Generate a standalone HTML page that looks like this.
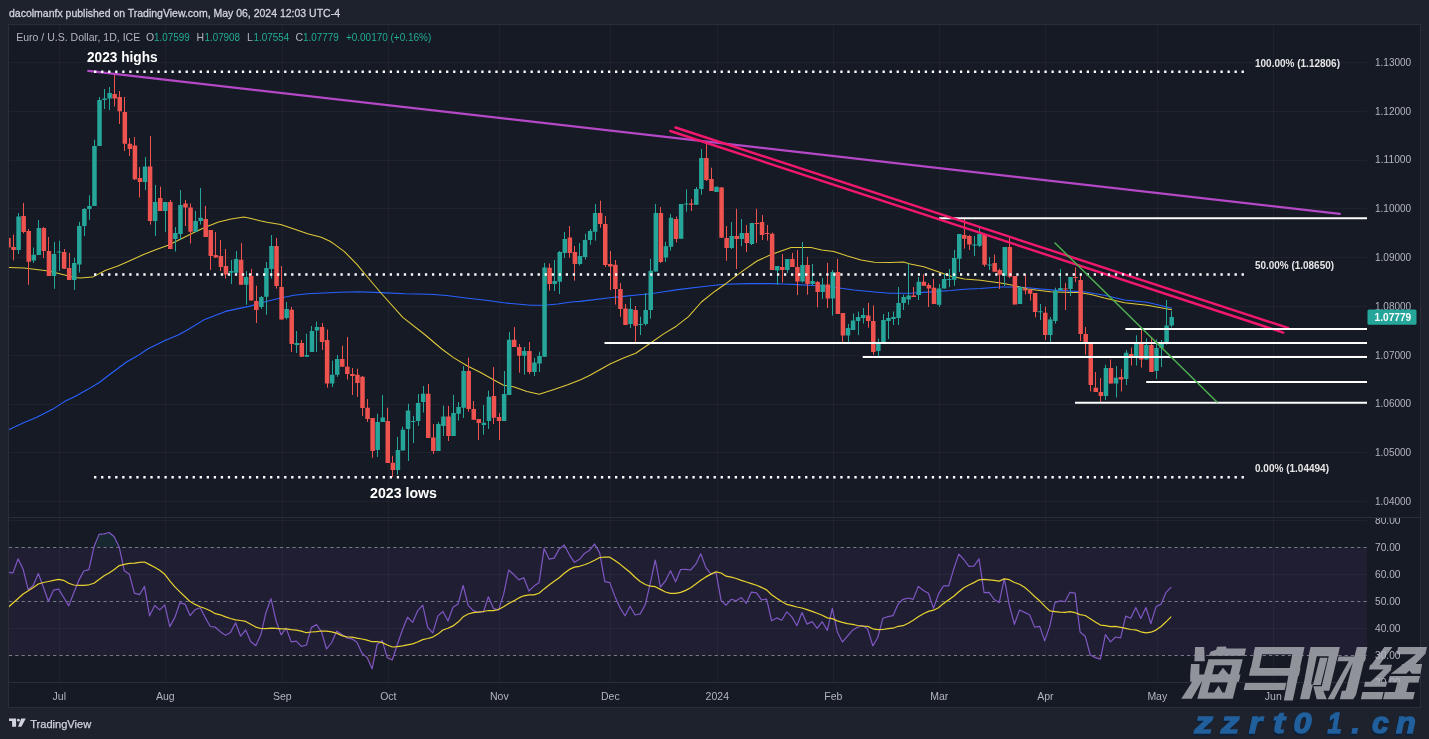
<!DOCTYPE html>
<html><head><meta charset="utf-8"><style>html,body{margin:0;padding:0;background:#1e222d;}svg{display:block;will-change:transform}</style></head>
<body><svg width="1429" height="739" viewBox="0 0 1429 739">
<rect x="0" y="0" width="1429" height="739" fill="#1e222d"/>
<rect x="8.5" y="24.5" width="1412" height="683" fill="#161a25" stroke="#2a2e39" stroke-width="1"/>
<rect x="9" y="547.3" width="1358" height="108.1" fill="#201e33"/>
<path d="M9 501.5H1367M9 452.5H1367M9 404.5H1367M9 355.5H1367M9 306.5H1367M9 257.5H1367M9 208.5H1367M9 160.5H1367M9 111.5H1367M9 62.5H1367M9 520.5H1367M9 574.5H1367M9 628.5H1367M59.5 25V517M59.5 518V682M165.5 25V517M165.5 518V682M282.5 25V517M282.5 518V682M388.5 25V517M388.5 518V682M499.5 25V517M499.5 518V682M610.5 25V517M610.5 518V682M717.5 25V517M717.5 518V682M833.5 25V517M833.5 518V682M939.5 25V517M939.5 518V682M1045.5 25V517M1045.5 518V682M1157.5 25V517M1157.5 518V682M1273.5 25V517M1273.5 518V682" stroke="rgba(120,123,134,0.09)" stroke-width="1" fill="none"/>
<path d="M9 517.5H1420M9 682.5H1420" stroke="#2a2e39" stroke-width="1"/>
<path d="M9 547.5H1367M9 601.5H1367M9 655.5H1367" stroke="#787b86" stroke-width="1" stroke-dasharray="3.2 3.1" fill="none"/>
<defs><clipPath id="cp"><rect x="9" y="25" width="1358" height="492"/></clipPath><clipPath id="cr"><rect x="9" y="518" width="1358" height="164"/></clipPath></defs>
<g clip-path="url(#cp)">
<polyline points="8.7,429.8 23.0,423.0 36.8,417.2 52.9,409.1 64.4,401.6 75.9,396.0 87.4,389.6 98.9,382.7 110.4,374.0 126.5,362.0 138.0,355.6 147.2,349.3 164.4,340.8 178.2,334.9 188.6,329.3 204.7,319.4 225.4,311.4 250.0,306.1 267.0,301.3 280.6,298.0 294.0,295.2 307.7,293.8 339.5,292.3 359.0,291.8 380.9,292.6 405.2,293.8 429.6,294.3 446.6,295.5 466.0,298.0 490.0,300.7 503.5,302.8 517.0,304.0 530.6,305.2 544.0,305.2 557.7,304.0 571.2,302.0 580.0,301.4 610.0,297.7 623.5,296.4 637.0,295.0 650.6,293.7 664.0,291.7 677.7,289.6 704.0,286.5 724.4,284.2 750.0,283.6 770.6,283.6 784.0,284.0 797.7,284.6 813.5,285.5 833.8,287.2 854.0,290.0 874.4,292.0 890.0,293.2 910.3,293.2 930.6,291.9 951.0,290.5 964.4,289.2 980.0,288.5 1000.6,287.0 1014.0,287.0 1027.7,287.7 1041.2,289.0 1057.0,290.4 1084.0,291.8 1104.4,295.2 1124.6,300.0 1147.0,302.2 1172.0,308.2" fill="none" stroke="#2962ff" stroke-width="1.1" stroke-linejoin="round"/>
<polyline points="0.0,267.0 9.0,267.4 24.0,268.0 48.7,271.0 74.7,277.5 80.0,278.1 92.6,277.1 105.2,270.5 117.8,266.1 130.4,260.5 143.0,254.8 155.6,249.7 168.2,245.3 180.8,239.0 193.4,232.7 205.9,227.1 218.5,222.0 231.1,218.9 243.7,217.0 250.0,218.3 260.0,220.8 267.0,222.3 280.6,224.4 294.0,229.0 307.7,233.8 321.2,237.2 330.0,241.3 334.6,244.4 344.4,251.7 356.5,263.8 368.7,278.5 380.9,293.0 402.8,317.4 424.7,334.5 441.8,349.0 453.5,357.6 467.0,365.7 480.6,372.5 494.0,380.0 503.6,385.3 513.5,386.8 527.0,391.6 539.2,394.3 554.0,389.5 567.7,384.8 581.2,379.4 590.0,375.3 610.0,364.0 623.5,358.0 635.7,353.2 650.6,343.0 664.0,333.6 676.3,326.2 688.5,316.7 701.4,302.0 715.0,291.2 725.8,283.7 743.5,270.4 757.0,261.0 770.6,254.8 784.0,250.0 791.0,247.4 811.0,247.4 821.7,250.0 833.8,251.4 847.4,256.0 861.0,260.0 874.4,262.2 890.0,262.5 903.5,262.0 910.3,264.1 923.8,266.8 937.4,271.6 951.0,276.3 964.4,279.0 980.3,280.2 1000.6,283.0 1014.0,285.6 1027.7,289.0 1050.3,291.8 1070.6,292.5 1078.7,292.5 1091.0,294.5 1104.4,298.0 1124.6,302.7 1147.0,305.2 1172.0,309.7" fill="none" stroke="#e0c93a" stroke-width="1.05" stroke-linejoin="round"/>
<path d="M18.5 213.0V254.0M33.5 247.5V263.0M38.5 220.0V255.0M54.5 242.0V288.8M59.5 240.7V271.0M74.5 257.7V290.0M79.5 221.8V272.5M84.5 208.0V236.0M89.5 195.4V219.8M94.5 139.7V206.0M99.5 97.0V146.0M104.5 89.0V109.0M109.5 87.0V110.0M145.5 157.0V190.0M155.5 185.0V236.0M165.5 202.0V232.0M175.5 227.0V251.5M180.5 190.0V240.0M195.5 211.0V231.7M200.5 188.0V224.5M231.5 260.0V284.0M236.5 251.0V272.8M246.5 271.0V304.7M261.5 296.0V308.7M266.5 262.0V314.8M271.5 235.0V278.5M286.5 302.0V319.5M296.5 331.0V353.0M306.5 333.7V356.8M311.5 326.0V352.0M316.5 321.6V352.0M332.5 360.6V387.0M337.5 355.0V376.8M377.5 413.8V457.0M382.5 395.0V422.0M397.5 436.8V474.7M402.5 426.7V450.4M408.5 403.7V461.0M413.5 416.0V443.0M418.5 394.0V426.0M423.5 386.0V412.5M438.5 422.0V451.0M443.5 405.7V436.0M453.5 394.8V436.0M458.5 402.0V420.5M463.5 366.0V418.0M483.5 405.0V434.7M488.5 390.7V429.0M504.5 371.0V421.0M509.5 332.0V395.0M524.5 347.0V374.6M534.5 358.0V376.0M539.5 351.7V372.0M544.5 262.9V356.8M554.5 260.0V291.0M559.5 251.0V294.0M564.5 232.0V258.0M579.5 243.0V265.6M585.5 233.8V259.5M590.5 229.0V244.7M595.5 204.0V240.6M630.5 297.7V328.0M640.5 316.7V335.0M645.5 293.0V325.5M650.5 258.9V318.7M655.5 204.0V271.6M665.5 241.8V262.0M670.5 214.0V250.6M681.5 204.0V238.8M686.5 189.4V211.7M696.5 187.0V204.7M701.5 149.0V194.8M716.5 186.7V192.0M731.5 222.0V249.0M741.5 219.0V246.0M751.5 223.0V245.0M777.5 266.0V284.6M787.5 259.0V273.0M802.5 242.0V282.5M812.5 264.0V285.0M822.5 278.0V299.0M832.5 270.0V315.6M848.5 324.0V343.0M853.5 313.6V330.0M858.5 311.6V335.0M863.5 308.0V323.7M878.5 338.6V356.0M883.5 314.0V343.0M888.5 312.0V339.0M893.5 311.5V325.0M898.5 287.0V325.0M903.5 294.6V310.0M908.5 263.5V304.7M918.5 277.0V300.0M939.5 284.0V306.8M944.5 273.6V288.5M949.5 269.0V287.0M954.5 250.0V285.8M959.5 234.0V272.0M974.5 236.0V256.0M979.5 226.0V247.0M989.5 257.0V270.0M1004.5 247.0V286.0M1019.5 286.0V304.0M1040.5 304.0V320.0M1050.5 317.0V342.5M1055.5 287.7V323.6M1060.5 268.8V290.0M1070.5 277.0V296.0M1105.5 364.7V400.0M1116.5 366.0V397.5M1126.5 350.0V385.0M1136.5 335.4V365.5M1146.5 338.4V359.5M1156.5 339.4V378.9M1161.5 340.0V367.0M1166.5 300.0V344.6M1171.5 311.0V327.5" stroke="#26a69a" stroke-width="1" fill="none"/>
<path d="M8.5 235.0V252.0M13.5 234.7V260.4M23.5 202.9V233.3M28.5 229.0V284.7M43.5 227.0V258.0M48.5 237.0V276.0M64.5 249.0V268.8M69.5 253.0V280.0M114.5 74.0V106.5M119.5 91.0V124.0M124.5 97.0V151.0M129.5 138.0V156.0M134.5 137.0V180.0M139.5 167.0V197.5M150.5 136.0V224.6M160.5 186.7V211.0M170.5 200.0V249.0M185.5 200.0V226.0M190.5 203.5V243.5M205.5 206.0V237.0M210.5 230.0V270.0M215.5 232.0V258.0M220.5 240.0V271.0M225.5 249.0V278.6M241.5 243.0V285.0M251.5 268.8V300.6M256.5 285.7V323.0M276.5 238.0V288.6M281.5 266.0V319.5M291.5 307.0V352.0M301.5 340.0V356.8M322.5 323.0V350.0M327.5 329.5V387.7M342.5 345.7V366.7M347.5 337.0V379.5M352.5 368.0V395.0M357.5 368.7V397.0M362.5 376.0V416.0M367.5 399.0V422.0M372.5 418.0V457.8M387.5 407.7V463.0M392.5 455.8V477.0M428.5 384.0V438.0M433.5 424.0V454.0M448.5 406.0V441.0M468.5 357.6V411.7M473.5 401.0V419.8M478.5 419.0V440.0M493.5 367.0V424.0M499.5 413.0V440.0M514.5 327.0V347.0M519.5 344.0V372.6M529.5 342.0V374.0M549.5 263.5V290.6M569.5 226.0V257.7M574.5 246.0V280.7M600.5 200.7V227.7M605.5 216.0V267.0M610.5 251.0V290.0M615.5 260.0V304.5M620.5 283.0V316.7M625.5 304.0V325.0M635.5 306.0V343.7M660.5 207.0V263.0M676.5 216.5V242.5M691.5 199.0V211.0M706.5 142.0V181.0M711.5 167.7V191.0M721.5 187.0V238.0M726.5 226.0V260.7M736.5 208.8V269.0M746.5 225.0V252.0M756.5 208.8V243.0M762.5 215.0V240.0M767.5 225.0V240.6M772.5 232.5V270.0M782.5 254.0V282.5M792.5 252.8V267.0M797.5 250.0V295.0M807.5 256.8V294.7M817.5 281.0V307.5M827.5 262.9V308.0M837.5 258.8V314.0M842.5 313.0V342.7M868.5 302.8V327.7M873.5 305.5V354.8M913.5 287.0V297.0M923.5 274.0V285.8M928.5 283.0V307.0M933.5 279.0V304.0M964.5 217.4V248.6M969.5 235.0V250.0M984.5 234.0V266.7M994.5 254.5V271.7M999.5 268.7V289.0M1009.5 237.6V278.0M1014.5 276.0V304.6M1025.5 274.8V294.4M1030.5 289.0V300.5M1035.5 293.0V317.4M1045.5 306.7V340.0M1065.5 283.0V310.0M1075.5 267.4V282.0M1080.5 274.0V341.0M1085.5 327.0V354.7M1090.5 342.0V391.5M1095.5 372.0V392.0M1100.5 378.0V402.7M1110.5 359.5V383.6M1121.5 369.0V391.5M1131.5 347.6V365.5M1141.5 329.0V367.7M1151.5 338.0V372.0" stroke="#ef5350" stroke-width="1" fill="none"/>
<path d="M16.35 216.4h4.5v33.6h-4.5zM31.53 254.7h4.5v5.7h-4.5zM36.58 228.0h4.5v27.0h-4.5zM51.76 254.0h4.5v22.0h-4.5zM56.81 251.5h4.5v1.0h-4.5zM71.98 263.0h4.5v17.0h-4.5zM77.04 226.0h4.5v38.4h-4.5zM82.10 209.0h4.5v17.0h-4.5zM87.16 206.0h4.5v3.0h-4.5zM92.21 146.0h4.5v60.0h-4.5zM97.27 100.0h4.5v46.0h-4.5zM102.33 98.4h4.5v1.6h-4.5zM107.39 93.0h4.5v5.4h-4.5zM142.79 166.4h4.5v15.6h-4.5zM152.90 202.0h4.5v19.0h-4.5zM163.02 202.0h4.5v9.0h-4.5zM173.13 233.0h4.5v6.0h-4.5zM178.19 205.0h4.5v29.0h-4.5zM193.36 221.0h4.5v10.7h-4.5zM198.42 217.7h4.5v3.3h-4.5zM228.76 271.0h4.5v1.8h-4.5zM233.82 259.0h4.5v13.8h-4.5zM243.93 277.0h4.5v7.7h-4.5zM259.11 297.0h4.5v10.0h-4.5zM264.16 268.0h4.5v28.8h-4.5zM269.22 246.0h4.5v23.0h-4.5zM284.39 309.0h4.5v9.0h-4.5zM294.51 343.0h4.5v2.0h-4.5zM304.62 355.0h4.5v1.8h-4.5zM309.68 331.0h4.5v21.0h-4.5zM314.74 327.0h4.5v3.6h-4.5zM329.91 374.8h4.5v8.8h-4.5zM334.97 359.0h4.5v15.8h-4.5zM375.42 422.0h4.5v28.0h-4.5zM380.48 417.6h4.5v4.4h-4.5zM395.65 450.0h4.5v20.0h-4.5zM400.71 429.8h4.5v20.6h-4.5zM405.77 410.4h4.5v18.6h-4.5zM410.82 421.0h4.5v1.0h-4.5zM415.88 403.0h4.5v18.0h-4.5zM420.94 393.8h4.5v8.2h-4.5zM436.11 424.0h4.5v27.0h-4.5zM441.17 416.5h4.5v9.5h-4.5zM451.28 413.0h4.5v23.0h-4.5zM456.34 407.0h4.5v6.7h-4.5zM461.40 371.0h4.5v36.7h-4.5zM481.63 422.8h4.5v2.2h-4.5zM486.68 396.8h4.5v24.2h-4.5zM501.86 393.9h4.5v27.1h-4.5zM506.91 339.7h4.5v55.3h-4.5zM522.09 351.0h4.5v4.7h-4.5zM532.20 362.5h4.5v9.5h-4.5zM537.26 356.0h4.5v7.6h-4.5zM542.31 267.6h4.5v89.2h-4.5zM552.43 281.0h4.5v3.0h-4.5zM557.49 252.0h4.5v29.7h-4.5zM562.54 239.0h4.5v14.0h-4.5zM577.72 256.0h4.5v8.0h-4.5zM582.77 240.0h4.5v17.0h-4.5zM587.83 231.0h4.5v9.0h-4.5zM592.89 213.0h4.5v18.7h-4.5zM628.29 309.0h4.5v15.0h-4.5zM638.40 324.0h4.5v1.0h-4.5zM643.46 310.0h4.5v14.0h-4.5zM648.52 270.7h4.5v39.3h-4.5zM653.58 213.0h4.5v58.6h-4.5zM663.69 246.3h4.5v11.3h-4.5zM668.75 217.8h4.5v29.0h-4.5zM678.86 204.0h4.5v34.8h-4.5zM683.92 203.6h4.5v1.0h-4.5zM694.03 189.0h4.5v15.7h-4.5zM699.09 157.9h4.5v31.1h-4.5zM714.26 186.7h4.5v5.3h-4.5zM729.44 236.0h4.5v12.0h-4.5zM739.55 233.0h4.5v6.0h-4.5zM749.66 223.0h4.5v21.0h-4.5zM774.95 266.0h4.5v4.6h-4.5zM785.07 259.0h4.5v11.0h-4.5zM800.24 265.0h4.5v16.5h-4.5zM810.35 281.0h4.5v3.0h-4.5zM820.47 284.5h4.5v7.5h-4.5zM830.58 272.0h4.5v26.4h-4.5zM845.75 328.0h4.5v7.5h-4.5zM850.81 320.6h4.5v9.4h-4.5zM855.87 317.0h4.5v4.0h-4.5zM860.93 315.0h4.5v3.0h-4.5zM876.10 343.0h4.5v8.0h-4.5zM881.16 320.0h4.5v23.0h-4.5zM886.21 318.0h4.5v3.0h-4.5zM891.27 317.0h4.5v2.0h-4.5zM896.33 303.0h4.5v15.0h-4.5zM901.38 297.0h4.5v6.0h-4.5zM906.44 295.5h4.5v4.1h-4.5zM916.56 281.7h4.5v13.3h-4.5zM936.79 288.5h4.5v16.2h-4.5zM941.84 279.0h4.5v9.5h-4.5zM946.90 279.0h4.5v1.0h-4.5zM951.96 258.0h4.5v21.7h-4.5zM957.01 234.0h4.5v24.7h-4.5zM972.19 244.4h4.5v1.0h-4.5zM977.24 234.0h4.5v11.7h-4.5zM987.36 264.4h4.5v1.0h-4.5zM1002.53 247.0h4.5v28.7h-4.5zM1017.70 287.0h4.5v17.0h-4.5zM1037.93 311.3h4.5v1.0h-4.5zM1048.05 319.5h4.5v15.5h-4.5zM1053.10 290.4h4.5v30.6h-4.5zM1058.16 288.0h4.5v2.0h-4.5zM1068.28 277.0h4.5v12.0h-4.5zM1103.68 368.0h4.5v28.0h-4.5zM1113.79 377.7h4.5v5.9h-4.5zM1123.91 352.8h4.5v26.1h-4.5zM1134.02 342.4h4.5v14.1h-4.5zM1144.14 345.0h4.5v14.5h-4.5zM1154.25 348.0h4.5v23.0h-4.5zM1159.31 344.0h4.5v4.0h-4.5zM1164.36 325.6h4.5v18.4h-4.5zM1169.42 317.0h4.5v8.6h-4.5z" fill="#26a69a"/>
<path d="M6.24 238.0h4.5v9.5h-4.5zM11.30 247.0h4.5v3.0h-4.5zM21.41 216.0h4.5v16.0h-4.5zM26.47 231.0h4.5v30.7h-4.5zM41.64 228.0h4.5v23.0h-4.5zM46.70 251.0h4.5v25.0h-4.5zM61.87 252.0h4.5v16.8h-4.5zM66.93 268.0h4.5v12.0h-4.5zM112.44 94.0h4.5v4.4h-4.5zM117.50 97.0h4.5v14.3h-4.5zM122.56 112.0h4.5v31.7h-4.5zM127.62 143.7h4.5v5.3h-4.5zM132.67 145.4h4.5v33.8h-4.5zM137.73 178.0h4.5v4.0h-4.5zM147.84 166.4h4.5v54.6h-4.5zM157.96 198.0h4.5v13.0h-4.5zM168.07 202.0h4.5v47.0h-4.5zM183.25 203.5h4.5v4.1h-4.5zM188.30 207.6h4.5v24.1h-4.5zM203.47 219.0h4.5v18.0h-4.5zM208.53 230.0h4.5v26.0h-4.5zM213.59 255.0h4.5v2.4h-4.5zM218.65 256.0h4.5v11.0h-4.5zM223.70 266.0h4.5v8.6h-4.5zM238.88 259.7h4.5v25.0h-4.5zM248.99 276.0h4.5v24.6h-4.5zM254.05 301.0h4.5v9.0h-4.5zM274.28 246.0h4.5v40.0h-4.5zM279.33 287.0h4.5v32.5h-4.5zM289.45 309.8h4.5v34.2h-4.5zM299.56 343.0h4.5v13.8h-4.5zM319.79 327.0h4.5v15.0h-4.5zM324.85 340.0h4.5v43.6h-4.5zM340.02 359.0h4.5v7.7h-4.5zM345.08 366.7h4.5v7.2h-4.5zM350.14 373.9h4.5v2.1h-4.5zM355.19 374.8h4.5v8.2h-4.5zM360.25 376.8h4.5v31.2h-4.5zM365.31 407.7h4.5v11.3h-4.5zM370.37 418.0h4.5v33.0h-4.5zM385.54 421.0h4.5v42.0h-4.5zM390.60 462.8h4.5v7.2h-4.5zM426.00 393.8h4.5v44.2h-4.5zM431.05 437.5h4.5v13.5h-4.5zM446.23 416.5h4.5v19.5h-4.5zM466.46 371.0h4.5v38.0h-4.5zM471.51 409.0h4.5v10.8h-4.5zM476.57 419.0h4.5v4.0h-4.5zM491.74 396.0h4.5v21.8h-4.5zM496.80 417.0h4.5v4.0h-4.5zM511.97 339.7h4.5v7.3h-4.5zM517.03 347.0h4.5v8.7h-4.5zM527.14 351.0h4.5v21.0h-4.5zM547.37 267.8h4.5v16.2h-4.5zM567.60 237.6h4.5v15.4h-4.5zM572.66 252.0h4.5v12.0h-4.5zM597.95 213.0h4.5v11.0h-4.5zM603.00 224.0h4.5v41.0h-4.5zM608.06 264.0h4.5v2.5h-4.5zM613.12 264.7h4.5v24.3h-4.5zM618.17 289.0h4.5v20.0h-4.5zM623.23 308.6h4.5v16.4h-4.5zM633.35 310.0h4.5v15.8h-4.5zM658.63 213.0h4.5v49.0h-4.5zM673.81 219.0h4.5v20.0h-4.5zM688.98 203.6h4.5v1.1h-4.5zM704.15 157.9h4.5v22.1h-4.5zM709.21 179.0h4.5v12.0h-4.5zM719.32 187.4h4.5v50.3h-4.5zM724.38 238.0h4.5v10.0h-4.5zM734.49 236.0h4.5v3.0h-4.5zM744.61 233.0h4.5v10.0h-4.5zM754.72 223.0h4.5v1.0h-4.5zM759.78 222.0h4.5v13.0h-4.5zM764.84 233.0h4.5v1.0h-4.5zM769.89 233.8h4.5v36.2h-4.5zM780.01 267.0h4.5v3.0h-4.5zM790.12 259.0h4.5v8.0h-4.5zM795.18 267.0h4.5v14.5h-4.5zM805.30 265.0h4.5v19.0h-4.5zM815.41 282.0h4.5v10.0h-4.5zM825.52 284.5h4.5v13.9h-4.5zM835.64 272.0h4.5v42.0h-4.5zM840.70 313.0h4.5v22.5h-4.5zM865.98 315.6h4.5v5.4h-4.5zM871.04 321.0h4.5v31.0h-4.5zM911.50 295.5h4.5v1.5h-4.5zM921.61 281.7h4.5v4.1h-4.5zM926.67 285.0h4.5v3.5h-4.5zM931.73 287.8h4.5v16.2h-4.5zM962.07 235.0h4.5v3.7h-4.5zM967.13 236.0h4.5v8.5h-4.5zM982.30 234.0h4.5v30.7h-4.5zM992.42 263.0h4.5v8.7h-4.5zM997.47 270.0h4.5v4.8h-4.5zM1007.59 247.0h4.5v29.8h-4.5zM1012.65 276.0h4.5v28.6h-4.5zM1022.76 289.0h4.5v1.4h-4.5zM1027.82 289.7h4.5v4.0h-4.5zM1032.87 293.0h4.5v19.0h-4.5zM1042.99 312.8h4.5v22.2h-4.5zM1063.22 288.4h4.5v1.0h-4.5zM1073.33 277.0h4.5v1.0h-4.5zM1078.39 280.0h4.5v54.0h-4.5zM1083.45 334.0h4.5v8.0h-4.5zM1088.51 342.0h4.5v43.0h-4.5zM1093.56 387.8h4.5v4.2h-4.5zM1098.62 392.0h4.5v4.0h-4.5zM1108.73 368.0h4.5v15.6h-4.5zM1118.85 377.0h4.5v2.6h-4.5zM1128.96 354.0h4.5v2.5h-4.5zM1139.08 342.4h4.5v17.1h-4.5zM1149.19 345.0h4.5v27.0h-4.5z" fill="#ef5350"/>
</g>
<line x1="88.2" y1="70.9" x2="1339.8" y2="213.9" stroke="#b548c6" stroke-width="2.2" stroke-linecap="round"/>
<line x1="939" y1="218.2" x2="1367" y2="218.2" stroke="#ffffff" stroke-width="2"/>
<line x1="675.5" y1="127.5" x2="1288" y2="327.9" stroke="#f2186c" stroke-width="2.4" stroke-linecap="round"/>
<line x1="670.3" y1="131" x2="1283.3" y2="332.6" stroke="#f2186c" stroke-width="2.4" stroke-linecap="round"/>
<line x1="94.05" y1="71.68" x2="1244.4" y2="71.68" stroke="#ffffff" stroke-width="2.4" stroke-dasharray="2.3 4.74"/>
<line x1="94.05" y1="274.45" x2="1244.4" y2="274.45" stroke="#ffffff" stroke-width="2.4" stroke-dasharray="2.3 4.74"/>
<line x1="94.05" y1="477.22" x2="1244.4" y2="477.22" stroke="#ffffff" stroke-width="2.4" stroke-dasharray="2.3 4.74"/>
<line x1="1125.4" y1="329" x2="1367" y2="329" stroke="#ffffff" stroke-width="2"/>
<line x1="604.5" y1="343.1" x2="1367" y2="343.1" stroke="#ffffff" stroke-width="2"/>
<line x1="862.7" y1="357" x2="1367" y2="357" stroke="#ffffff" stroke-width="2"/>
<line x1="1146.2" y1="381.9" x2="1367" y2="381.9" stroke="#ffffff" stroke-width="2"/>
<line x1="1075" y1="402.8" x2="1367" y2="402.8" stroke="#ffffff" stroke-width="2"/>
<line x1="1055" y1="243" x2="1217" y2="402" stroke="#4caf50" stroke-width="1.5" stroke-linecap="round"/>
<defs><clipPath id="ob"><rect x="9" y="518" width="1358" height="29.3"/></clipPath><clipPath id="os"><rect x="9" y="655.4" width="1358" height="26.6"/></clipPath></defs>
<polygon clip-path="url(#ob)" points="8.0,547.3 8.0,572.3 13.0,572.9 18.1,558.8 23.2,569.6 28.2,589.7 33.3,585.3 38.3,573.4 43.4,587.3 48.4,601.2 53.5,590.2 58.6,589.1 63.6,597.3 68.7,605.9 73.7,593.0 78.8,580.4 83.8,571.0 88.9,569.6 94.0,546.8 99.0,534.4 104.1,533.9 109.1,532.5 114.2,536.8 119.3,547.3 124.3,570.8 129.4,574.3 134.4,593.2 139.5,594.7 144.5,586.4 149.6,615.8 154.7,605.5 159.7,609.9 164.8,604.9 169.8,626.6 174.9,617.4 179.9,602.8 185.0,604.1 190.1,615.6 195.1,609.7 200.2,607.8 205.2,617.6 210.3,626.5 215.3,627.2 220.4,631.7 225.5,635.3 230.5,632.4 235.6,622.7 240.6,636.2 245.7,630.0 250.7,641.5 255.8,645.7 260.9,634.6 265.9,612.7 271.0,598.7 276.0,620.5 281.1,634.9 286.1,628.1 291.2,641.9 296.3,641.2 301.3,646.4 306.4,645.0 311.4,627.4 316.5,624.6 321.5,631.9 326.6,649.0 331.7,642.5 336.7,631.0 341.8,634.5 346.8,637.8 351.9,638.8 356.9,642.2 362.0,653.2 367.1,657.6 372.1,668.8 377.2,644.2 382.2,640.7 387.3,657.8 392.3,660.0 397.4,644.3 402.5,629.8 407.5,617.2 412.6,622.4 417.6,610.9 422.7,605.2 427.7,627.3 432.8,632.8 437.9,615.9 442.9,611.5 448.0,621.0 453.0,607.3 458.1,603.9 463.1,585.3 468.2,605.4 473.3,610.6 478.3,612.1 483.4,612.0 488.4,596.8 493.5,608.4 498.5,610.1 503.6,594.4 508.7,570.0 513.7,574.5 518.8,579.9 523.8,577.7 528.9,591.0 534.0,586.1 539.0,582.8 544.1,548.7 549.1,559.1 554.2,558.1 559.2,548.9 564.3,545.0 569.4,554.8 574.4,562.3 579.5,559.3 584.5,553.4 589.6,550.2 594.6,544.0 599.7,552.9 604.8,581.6 609.8,582.6 614.9,596.4 619.9,607.6 625.0,615.8 630.0,606.2 635.1,615.0 640.2,613.9 645.2,604.8 650.3,583.2 655.3,560.0 660.4,587.1 665.4,581.0 670.5,570.7 675.6,581.8 680.6,569.5 685.7,569.4 690.7,570.0 695.8,564.2 700.8,553.8 705.9,567.6 711.0,574.1 716.0,572.4 721.1,600.4 726.1,605.2 731.2,599.3 736.2,600.8 741.3,597.6 746.4,603.3 751.4,592.1 756.5,592.8 761.5,599.9 766.6,599.2 771.6,620.8 776.7,617.9 781.8,620.2 786.8,611.8 791.9,616.9 796.9,625.8 802.0,612.5 807.0,624.1 812.1,621.6 817.2,628.3 822.2,621.7 827.3,630.4 832.3,608.4 837.4,632.3 842.4,642.0 847.5,636.1 852.6,630.2 857.6,627.2 862.7,625.5 867.7,629.2 872.8,645.9 877.8,637.5 882.9,618.2 888.0,616.6 893.0,615.7 898.1,604.1 903.1,599.3 908.2,598.0 913.2,599.4 918.3,586.4 923.4,590.5 928.4,593.3 933.5,608.4 938.5,593.9 943.6,585.8 948.7,585.8 953.7,569.1 958.8,554.1 963.8,559.5 968.9,566.3 973.9,566.2 979.0,558.9 984.1,592.6 989.1,592.3 994.2,599.5 999.2,602.5 1004.3,578.5 1009.3,605.2 1014.4,624.3 1019.5,610.0 1024.5,612.4 1029.6,614.7 1034.6,627.1 1039.7,626.4 1044.7,640.9 1049.8,626.1 1054.9,602.7 1059.9,600.9 1065.0,601.7 1070.0,592.3 1075.1,593.2 1080.1,632.0 1085.2,636.2 1090.3,655.0 1095.3,657.6 1100.4,659.1 1105.4,634.7 1110.5,641.9 1115.5,637.0 1120.6,637.9 1125.7,616.1 1130.7,618.3 1135.8,607.5 1140.8,618.4 1145.9,607.5 1150.9,623.7 1156.0,606.8 1161.1,604.1 1166.1,592.3 1171.2,587.1 1171.2,547.3" fill="rgba(38,166,154,0.1)"/>
<polygon clip-path="url(#os)" points="8.0,655.4 8.0,572.3 13.0,572.9 18.1,558.8 23.2,569.6 28.2,589.7 33.3,585.3 38.3,573.4 43.4,587.3 48.4,601.2 53.5,590.2 58.6,589.1 63.6,597.3 68.7,605.9 73.7,593.0 78.8,580.4 83.8,571.0 88.9,569.6 94.0,546.8 99.0,534.4 104.1,533.9 109.1,532.5 114.2,536.8 119.3,547.3 124.3,570.8 129.4,574.3 134.4,593.2 139.5,594.7 144.5,586.4 149.6,615.8 154.7,605.5 159.7,609.9 164.8,604.9 169.8,626.6 174.9,617.4 179.9,602.8 185.0,604.1 190.1,615.6 195.1,609.7 200.2,607.8 205.2,617.6 210.3,626.5 215.3,627.2 220.4,631.7 225.5,635.3 230.5,632.4 235.6,622.7 240.6,636.2 245.7,630.0 250.7,641.5 255.8,645.7 260.9,634.6 265.9,612.7 271.0,598.7 276.0,620.5 281.1,634.9 286.1,628.1 291.2,641.9 296.3,641.2 301.3,646.4 306.4,645.0 311.4,627.4 316.5,624.6 321.5,631.9 326.6,649.0 331.7,642.5 336.7,631.0 341.8,634.5 346.8,637.8 351.9,638.8 356.9,642.2 362.0,653.2 367.1,657.6 372.1,668.8 377.2,644.2 382.2,640.7 387.3,657.8 392.3,660.0 397.4,644.3 402.5,629.8 407.5,617.2 412.6,622.4 417.6,610.9 422.7,605.2 427.7,627.3 432.8,632.8 437.9,615.9 442.9,611.5 448.0,621.0 453.0,607.3 458.1,603.9 463.1,585.3 468.2,605.4 473.3,610.6 478.3,612.1 483.4,612.0 488.4,596.8 493.5,608.4 498.5,610.1 503.6,594.4 508.7,570.0 513.7,574.5 518.8,579.9 523.8,577.7 528.9,591.0 534.0,586.1 539.0,582.8 544.1,548.7 549.1,559.1 554.2,558.1 559.2,548.9 564.3,545.0 569.4,554.8 574.4,562.3 579.5,559.3 584.5,553.4 589.6,550.2 594.6,544.0 599.7,552.9 604.8,581.6 609.8,582.6 614.9,596.4 619.9,607.6 625.0,615.8 630.0,606.2 635.1,615.0 640.2,613.9 645.2,604.8 650.3,583.2 655.3,560.0 660.4,587.1 665.4,581.0 670.5,570.7 675.6,581.8 680.6,569.5 685.7,569.4 690.7,570.0 695.8,564.2 700.8,553.8 705.9,567.6 711.0,574.1 716.0,572.4 721.1,600.4 726.1,605.2 731.2,599.3 736.2,600.8 741.3,597.6 746.4,603.3 751.4,592.1 756.5,592.8 761.5,599.9 766.6,599.2 771.6,620.8 776.7,617.9 781.8,620.2 786.8,611.8 791.9,616.9 796.9,625.8 802.0,612.5 807.0,624.1 812.1,621.6 817.2,628.3 822.2,621.7 827.3,630.4 832.3,608.4 837.4,632.3 842.4,642.0 847.5,636.1 852.6,630.2 857.6,627.2 862.7,625.5 867.7,629.2 872.8,645.9 877.8,637.5 882.9,618.2 888.0,616.6 893.0,615.7 898.1,604.1 903.1,599.3 908.2,598.0 913.2,599.4 918.3,586.4 923.4,590.5 928.4,593.3 933.5,608.4 938.5,593.9 943.6,585.8 948.7,585.8 953.7,569.1 958.8,554.1 963.8,559.5 968.9,566.3 973.9,566.2 979.0,558.9 984.1,592.6 989.1,592.3 994.2,599.5 999.2,602.5 1004.3,578.5 1009.3,605.2 1014.4,624.3 1019.5,610.0 1024.5,612.4 1029.6,614.7 1034.6,627.1 1039.7,626.4 1044.7,640.9 1049.8,626.1 1054.9,602.7 1059.9,600.9 1065.0,601.7 1070.0,592.3 1075.1,593.2 1080.1,632.0 1085.2,636.2 1090.3,655.0 1095.3,657.6 1100.4,659.1 1105.4,634.7 1110.5,641.9 1115.5,637.0 1120.6,637.9 1125.7,616.1 1130.7,618.3 1135.8,607.5 1140.8,618.4 1145.9,607.5 1150.9,623.7 1156.0,606.8 1161.1,604.1 1166.1,592.3 1171.2,587.1 1171.2,655.4" fill="rgba(239,83,80,0.1)"/>
<g clip-path="url(#cr)">
<polyline points="8.0,572.3 13.0,572.9 18.1,558.8 23.2,569.6 28.2,589.7 33.3,585.3 38.3,573.4 43.4,587.3 48.4,601.2 53.5,590.2 58.6,589.1 63.6,597.3 68.7,605.9 73.7,593.0 78.8,580.4 83.8,571.0 88.9,569.6 94.0,546.8 99.0,534.4 104.1,533.9 109.1,532.5 114.2,536.8 119.3,547.3 124.3,570.8 129.4,574.3 134.4,593.2 139.5,594.7 144.5,586.4 149.6,615.8 154.7,605.5 159.7,609.9 164.8,604.9 169.8,626.6 174.9,617.4 179.9,602.8 185.0,604.1 190.1,615.6 195.1,609.7 200.2,607.8 205.2,617.6 210.3,626.5 215.3,627.2 220.4,631.7 225.5,635.3 230.5,632.4 235.6,622.7 240.6,636.2 245.7,630.0 250.7,641.5 255.8,645.7 260.9,634.6 265.9,612.7 271.0,598.7 276.0,620.5 281.1,634.9 286.1,628.1 291.2,641.9 296.3,641.2 301.3,646.4 306.4,645.0 311.4,627.4 316.5,624.6 321.5,631.9 326.6,649.0 331.7,642.5 336.7,631.0 341.8,634.5 346.8,637.8 351.9,638.8 356.9,642.2 362.0,653.2 367.1,657.6 372.1,668.8 377.2,644.2 382.2,640.7 387.3,657.8 392.3,660.0 397.4,644.3 402.5,629.8 407.5,617.2 412.6,622.4 417.6,610.9 422.7,605.2 427.7,627.3 432.8,632.8 437.9,615.9 442.9,611.5 448.0,621.0 453.0,607.3 458.1,603.9 463.1,585.3 468.2,605.4 473.3,610.6 478.3,612.1 483.4,612.0 488.4,596.8 493.5,608.4 498.5,610.1 503.6,594.4 508.7,570.0 513.7,574.5 518.8,579.9 523.8,577.7 528.9,591.0 534.0,586.1 539.0,582.8 544.1,548.7 549.1,559.1 554.2,558.1 559.2,548.9 564.3,545.0 569.4,554.8 574.4,562.3 579.5,559.3 584.5,553.4 589.6,550.2 594.6,544.0 599.7,552.9 604.8,581.6 609.8,582.6 614.9,596.4 619.9,607.6 625.0,615.8 630.0,606.2 635.1,615.0 640.2,613.9 645.2,604.8 650.3,583.2 655.3,560.0 660.4,587.1 665.4,581.0 670.5,570.7 675.6,581.8 680.6,569.5 685.7,569.4 690.7,570.0 695.8,564.2 700.8,553.8 705.9,567.6 711.0,574.1 716.0,572.4 721.1,600.4 726.1,605.2 731.2,599.3 736.2,600.8 741.3,597.6 746.4,603.3 751.4,592.1 756.5,592.8 761.5,599.9 766.6,599.2 771.6,620.8 776.7,617.9 781.8,620.2 786.8,611.8 791.9,616.9 796.9,625.8 802.0,612.5 807.0,624.1 812.1,621.6 817.2,628.3 822.2,621.7 827.3,630.4 832.3,608.4 837.4,632.3 842.4,642.0 847.5,636.1 852.6,630.2 857.6,627.2 862.7,625.5 867.7,629.2 872.8,645.9 877.8,637.5 882.9,618.2 888.0,616.6 893.0,615.7 898.1,604.1 903.1,599.3 908.2,598.0 913.2,599.4 918.3,586.4 923.4,590.5 928.4,593.3 933.5,608.4 938.5,593.9 943.6,585.8 948.7,585.8 953.7,569.1 958.8,554.1 963.8,559.5 968.9,566.3 973.9,566.2 979.0,558.9 984.1,592.6 989.1,592.3 994.2,599.5 999.2,602.5 1004.3,578.5 1009.3,605.2 1014.4,624.3 1019.5,610.0 1024.5,612.4 1029.6,614.7 1034.6,627.1 1039.7,626.4 1044.7,640.9 1049.8,626.1 1054.9,602.7 1059.9,600.9 1065.0,601.7 1070.0,592.3 1075.1,593.2 1080.1,632.0 1085.2,636.2 1090.3,655.0 1095.3,657.6 1100.4,659.1 1105.4,634.7 1110.5,641.9 1115.5,637.0 1120.6,637.9 1125.7,616.1 1130.7,618.3 1135.8,607.5 1140.8,618.4 1145.9,607.5 1150.9,623.7 1156.0,606.8 1161.1,604.1 1166.1,592.3 1171.2,587.1" fill="none" stroke="#7e57c2" stroke-width="1.2" stroke-linejoin="round"/>
<polyline points="8.0,607.5 13.0,603.0 18.1,598.5 23.2,594.0 28.2,590.7 33.3,587.5 38.3,584.0 43.4,582.5 48.4,581.5 53.5,580.4 58.6,579.4 63.6,580.3 68.7,583.2 73.7,585.0 78.8,585.3 83.8,585.3 88.9,584.8 94.0,583.2 99.0,579.4 104.1,575.8 109.1,572.9 114.2,569.4 119.3,565.6 124.3,564.3 129.4,563.4 134.4,563.1 139.5,562.4 144.5,562.0 149.6,564.6 154.7,567.2 159.7,570.2 164.8,574.3 169.8,580.9 174.9,586.9 179.9,591.9 185.0,596.7 190.1,601.6 195.1,604.4 200.2,606.7 205.2,608.5 210.3,610.8 215.3,613.7 220.4,614.8 225.5,616.9 230.5,618.5 235.6,619.8 240.6,620.5 245.7,621.4 250.7,624.2 255.8,627.1 260.9,628.5 265.9,628.7 271.0,628.1 276.0,628.3 281.1,628.9 286.1,628.9 291.2,629.7 296.3,630.1 301.3,631.1 306.4,632.7 311.4,632.0 316.5,631.7 321.5,631.0 326.6,631.2 331.7,631.8 336.7,633.1 341.8,635.6 346.8,636.9 351.9,637.1 356.9,638.1 362.0,639.0 367.1,640.1 372.1,641.7 377.2,641.7 382.2,642.6 387.3,645.0 392.3,647.0 397.4,646.7 402.5,645.8 407.5,644.8 412.6,643.9 417.6,642.0 422.7,639.6 427.7,638.5 432.8,637.1 437.9,634.1 442.9,630.0 448.0,628.3 453.0,625.9 458.1,622.1 463.1,616.8 468.2,614.0 473.3,612.6 478.3,612.2 483.4,611.5 488.4,610.5 493.5,610.7 498.5,609.5 503.6,606.8 508.7,603.5 513.7,600.9 518.8,597.9 523.8,595.8 528.9,594.9 534.0,594.9 539.0,593.3 544.1,588.9 549.1,585.1 554.2,581.3 559.2,577.8 564.3,573.3 569.4,569.4 574.4,567.1 579.5,566.3 584.5,564.8 589.6,562.7 594.6,560.3 599.7,557.5 604.8,557.2 609.8,557.2 614.9,560.6 619.9,564.1 625.0,568.2 630.0,572.3 635.1,577.3 640.2,581.5 645.2,584.5 650.3,586.2 655.3,586.7 660.4,589.4 665.4,592.0 670.5,593.3 675.6,593.3 680.6,592.4 685.7,590.4 690.7,587.8 695.8,584.1 700.8,580.3 705.9,576.9 711.0,574.1 716.0,571.8 721.1,573.0 726.1,576.2 731.2,577.1 736.2,578.5 741.3,580.4 746.4,582.0 751.4,583.6 756.5,585.3 761.5,587.4 766.6,589.9 771.6,594.7 776.7,598.3 781.8,601.6 786.8,604.4 791.9,605.6 796.9,607.0 802.0,608.0 807.0,609.6 812.1,611.4 817.2,613.2 822.2,615.3 827.3,617.9 832.3,618.6 837.4,620.9 842.4,622.4 847.5,623.7 852.6,624.4 857.6,625.5 862.7,626.2 867.7,626.4 872.8,628.8 877.8,629.7 882.9,629.5 888.0,628.6 893.0,628.2 898.1,626.3 903.1,625.7 908.2,623.2 913.2,620.2 918.3,616.7 923.4,613.8 928.4,611.4 933.5,610.2 938.5,607.7 943.6,603.4 948.7,599.7 953.7,596.2 958.8,591.7 963.8,587.7 968.9,585.0 973.9,582.6 979.0,579.8 984.1,579.3 989.1,579.8 994.2,580.4 999.2,581.1 1004.3,578.9 1009.3,579.7 1014.4,582.5 1019.5,584.2 1024.5,587.3 1029.6,591.6 1034.6,596.5 1039.7,600.8 1044.7,606.1 1049.8,610.9 1054.9,611.6 1059.9,612.2 1065.0,612.4 1070.0,611.7 1075.1,612.7 1080.1,614.6 1085.2,615.5 1090.3,618.7 1095.3,621.9 1100.4,625.1 1105.4,625.6 1110.5,626.7 1115.5,626.4 1120.6,627.3 1125.7,628.3 1130.7,629.5 1135.8,629.9 1140.8,631.8 1145.9,632.8 1150.9,632.2 1156.0,630.1 1161.1,626.5 1166.1,621.8 1171.2,616.7" fill="none" stroke="#e8d230" stroke-width="1.2" stroke-linejoin="round"/>
</g>
<g opacity="0.95">
<g transform="translate(1178,642) scale(0.08123)"><path d="M210,62 L322,62 L330,238 L202,238 ZM378,170 L400,120 L470,95 L480,58 L590,55 L600,80 L838,80 L818,170 ZM160,272 L265,272 L262,400 L150,400 ZM150,400 L770,400 L750,490 L150,490 ZM175,490 L292,490 L170,700 L40,700 Z" fill="#989aa2"/><path d="M374,211 L797,211 L675,700 L237,700 ZM448,285 L421,399 L491,399 L554,317 L624,399 L640,399 L667,285 ZM397,497 L366,622 L444,622 L499,536 L546,622 L577,622 L613,497 Z" fill="#989aa2" fill-rule="evenodd"/></g>
<g transform="translate(1240,642) scale(0.08123)"><path d="M185,62 L795,62 L776,150 L165,150 ZM170,150 L272,150 L238,320 L135,320 ZM130,320 L745,320 L725,415 L110,415 ZM660,62 L795,62 L650,720 L540,720 ZM65,505 L570,505 L550,592 L45,592 Z" fill="#989aa2"/></g>
<g transform="translate(1300,642) scale(0.08123)"><path d="M130,62 L490,62 L465,175 L105,175 ZM130,62 L230,62 L130,545 L40,545 ZM380,62 L490,62 L360,600 L255,600 ZM245,195 L340,195 L255,530 L160,530 ZM40,520 L160,520 L115,705 L0,705 ZM165,545 L265,545 L330,705 L205,705 ZM475,178 L815,178 L800,238 L460,238 ZM700,62 L830,62 L690,650 L655,705 L490,705 L515,600 L560,600 L572,560 ZM600,238 L660,238 L420,705 L340,705 Z" fill="#989aa2"/></g>
<g transform="translate(1360,642) scale(0.08117)"><path d="M300,62 L400,62 L240,280 L140,280 ZM125,280 L395,280 L380,340 L110,340 ZM290,340 L390,340 L190,545 L70,545 ZM60,490 L335,490 L320,550 L50,550 ZM30,615 L290,615 L270,705 L10,705 ZM470,62 L825,62 L805,150 L450,150 ZM690,150 L800,150 L570,390 L380,390 ZM520,270 L765,270 L745,390 L640,390 L590,330 L500,330 ZM365,420 L740,420 L720,500 L345,500 ZM460,500 L600,500 L570,615 L430,615 ZM305,615 L675,615 L655,705 L285,705 Z" fill="#989aa2"/></g>
</g>
<g transform="translate(1193.4,734.6) scale(1.22,1)"><text x="0" y="0" font-family="Liberation Sans, sans-serif" font-size="30" font-weight="bold" font-style="italic" fill="#0d2038" stroke="#0d2038" stroke-width="1.4">z</text></g>
<g transform="translate(1194.4,733.0) scale(1.22,1)"><text x="0" y="0" font-family="Liberation Sans, sans-serif" font-size="30" font-weight="bold" font-style="italic" fill="#21609c" stroke="#21609c" stroke-width="1.4">z</text></g>
<g transform="translate(1219.9,734.6) scale(1.22,1)"><text x="0" y="0" font-family="Liberation Sans, sans-serif" font-size="30" font-weight="bold" font-style="italic" fill="#0d2038" stroke="#0d2038" stroke-width="1.4">z</text></g>
<g transform="translate(1220.9,733.0) scale(1.22,1)"><text x="0" y="0" font-family="Liberation Sans, sans-serif" font-size="30" font-weight="bold" font-style="italic" fill="#21609c" stroke="#21609c" stroke-width="1.4">z</text></g>
<g transform="translate(1248.0,734.6) scale(1.12,1)"><text x="0" y="0" font-family="Liberation Sans, sans-serif" font-size="30" font-weight="bold" font-style="italic" fill="#0d2038" stroke="#0d2038" stroke-width="1.4">r</text></g>
<g transform="translate(1249.0,733.0) scale(1.12,1)"><text x="0" y="0" font-family="Liberation Sans, sans-serif" font-size="30" font-weight="bold" font-style="italic" fill="#21609c" stroke="#21609c" stroke-width="1.4">r</text></g>
<g transform="translate(1271.9,734.6) scale(1.18,1)"><text x="0" y="0" font-family="Liberation Sans, sans-serif" font-size="30" font-weight="bold" font-style="italic" fill="#0d2038" stroke="#0d2038" stroke-width="1.4">t</text></g>
<g transform="translate(1272.9,733.0) scale(1.18,1)"><text x="0" y="0" font-family="Liberation Sans, sans-serif" font-size="30" font-weight="bold" font-style="italic" fill="#21609c" stroke="#21609c" stroke-width="1.4">t</text></g>
<g transform="translate(1292.4,734.6) scale(1.08,1)"><text x="0" y="0" font-family="Liberation Sans, sans-serif" font-size="30" font-weight="bold" font-style="italic" fill="#0d2038" stroke="#0d2038" stroke-width="1.4">0</text></g>
<g transform="translate(1293.4,733.0) scale(1.08,1)"><text x="0" y="0" font-family="Liberation Sans, sans-serif" font-size="30" font-weight="bold" font-style="italic" fill="#21609c" stroke="#21609c" stroke-width="1.4">0</text></g>
<g transform="translate(1326.6,734.6) scale(0.85,1)"><text x="0" y="0" font-family="Liberation Sans, sans-serif" font-size="30" font-weight="bold" font-style="italic" fill="#0d2038" stroke="#0d2038" stroke-width="1.4">1</text></g>
<g transform="translate(1327.6,733.0) scale(0.85,1)"><text x="0" y="0" font-family="Liberation Sans, sans-serif" font-size="30" font-weight="bold" font-style="italic" fill="#21609c" stroke="#21609c" stroke-width="1.4">1</text></g>
<g transform="translate(1350.5,734.6) scale(1.0,1)"><text x="0" y="0" font-family="Liberation Sans, sans-serif" font-size="30" font-weight="bold" font-style="italic" fill="#0d2038" stroke="#0d2038" stroke-width="1.4">.</text></g>
<g transform="translate(1351.5,733.0) scale(1.0,1)"><text x="0" y="0" font-family="Liberation Sans, sans-serif" font-size="30" font-weight="bold" font-style="italic" fill="#21609c" stroke="#21609c" stroke-width="1.4">.</text></g>
<g transform="translate(1371.0,734.6) scale(1.0,1)"><text x="0" y="0" font-family="Liberation Sans, sans-serif" font-size="30" font-weight="bold" font-style="italic" fill="#0d2038" stroke="#0d2038" stroke-width="1.4">c</text></g>
<g transform="translate(1372.0,733.0) scale(1.0,1)"><text x="0" y="0" font-family="Liberation Sans, sans-serif" font-size="30" font-weight="bold" font-style="italic" fill="#21609c" stroke="#21609c" stroke-width="1.4">c</text></g>
<g transform="translate(1394.9,734.6) scale(1.08,1)"><text x="0" y="0" font-family="Liberation Sans, sans-serif" font-size="30" font-weight="bold" font-style="italic" fill="#0d2038" stroke="#0d2038" stroke-width="1.4">n</text></g>
<g transform="translate(1395.9,733.0) scale(1.08,1)"><text x="0" y="0" font-family="Liberation Sans, sans-serif" font-size="30" font-weight="bold" font-style="italic" fill="#21609c" stroke="#21609c" stroke-width="1.4">n</text></g>
<text x="1375" y="504.92000000000036" font-family="Liberation Sans, sans-serif" font-size="10.3" fill="#b2b5be" font-weight="normal" text-anchor="start" textLength="36.2" lengthAdjust="spacingAndGlyphs" >1.04000</text>
<text x="1375" y="456.13000000000034" font-family="Liberation Sans, sans-serif" font-size="10.3" fill="#b2b5be" font-weight="normal" text-anchor="start" textLength="36.2" lengthAdjust="spacingAndGlyphs" >1.05000</text>
<text x="1375" y="407.34000000000026" font-family="Liberation Sans, sans-serif" font-size="10.3" fill="#b2b5be" font-weight="normal" text-anchor="start" textLength="36.2" lengthAdjust="spacingAndGlyphs" >1.06000</text>
<text x="1375" y="358.55000000000024" font-family="Liberation Sans, sans-serif" font-size="10.3" fill="#b2b5be" font-weight="normal" text-anchor="start" textLength="36.2" lengthAdjust="spacingAndGlyphs" >1.07000</text>
<text x="1375" y="309.76000000000016" font-family="Liberation Sans, sans-serif" font-size="10.3" fill="#b2b5be" font-weight="normal" text-anchor="start" textLength="36.2" lengthAdjust="spacingAndGlyphs" >1.08000</text>
<text x="1375" y="260.97000000000014" font-family="Liberation Sans, sans-serif" font-size="10.3" fill="#b2b5be" font-weight="normal" text-anchor="start" textLength="36.2" lengthAdjust="spacingAndGlyphs" >1.09000</text>
<text x="1375" y="212.1800000000001" font-family="Liberation Sans, sans-serif" font-size="10.3" fill="#b2b5be" font-weight="normal" text-anchor="start" textLength="36.2" lengthAdjust="spacingAndGlyphs" >1.10000</text>
<text x="1375" y="163.39000000000004" font-family="Liberation Sans, sans-serif" font-size="10.3" fill="#b2b5be" font-weight="normal" text-anchor="start" textLength="36.2" lengthAdjust="spacingAndGlyphs" >1.11000</text>
<text x="1375" y="114.6" font-family="Liberation Sans, sans-serif" font-size="10.3" fill="#b2b5be" font-weight="normal" text-anchor="start" textLength="36.2" lengthAdjust="spacingAndGlyphs" >1.12000</text>
<text x="1375" y="65.81000000000104" font-family="Liberation Sans, sans-serif" font-size="10.3" fill="#b2b5be" font-weight="normal" text-anchor="start" textLength="36.2" lengthAdjust="spacingAndGlyphs" >1.13000</text>
<defs><clipPath id="cax"><rect x="1368" y="518" width="52" height="164"/></clipPath></defs><g clip-path="url(#cax)">
<text x="1375" y="523.56" font-family="Liberation Sans, sans-serif" font-size="10.3" fill="#b2b5be" font-weight="normal" text-anchor="start" textLength="25.5" lengthAdjust="spacingAndGlyphs" >80.00</text>
<text x="1375" y="550.59" font-family="Liberation Sans, sans-serif" font-size="10.3" fill="#b2b5be" font-weight="normal" text-anchor="start" textLength="25.5" lengthAdjust="spacingAndGlyphs" >70.00</text>
<text x="1375" y="577.62" font-family="Liberation Sans, sans-serif" font-size="10.3" fill="#b2b5be" font-weight="normal" text-anchor="start" textLength="25.5" lengthAdjust="spacingAndGlyphs" >60.00</text>
<text x="1375" y="604.65" font-family="Liberation Sans, sans-serif" font-size="10.3" fill="#b2b5be" font-weight="normal" text-anchor="start" textLength="25.5" lengthAdjust="spacingAndGlyphs" >50.00</text>
<text x="1375" y="631.68" font-family="Liberation Sans, sans-serif" font-size="10.3" fill="#b2b5be" font-weight="normal" text-anchor="start" textLength="25.5" lengthAdjust="spacingAndGlyphs" >40.00</text>
<text x="1375" y="658.7099999999999" font-family="Liberation Sans, sans-serif" font-size="10.3" fill="#b2b5be" font-weight="normal" text-anchor="start" textLength="25.5" lengthAdjust="spacingAndGlyphs" >30.00</text>
<text x="1375" y="685.74" font-family="Liberation Sans, sans-serif" font-size="10.3" fill="#b2b5be" font-weight="normal" text-anchor="start" textLength="25.5" lengthAdjust="spacingAndGlyphs" >20.00</text>
</g>
<rect x="1367.5" y="309.5" width="49" height="15.2" rx="1.5" fill="#26a69a"/>
<text x="1374.6" y="320.8" font-family="Liberation Sans, sans-serif" font-size="10.5" fill="#ffffff" font-weight="bold" text-anchor="start" textLength="36.6" lengthAdjust="spacingAndGlyphs" >1.07779</text>
<text x="59.3" y="700" font-family="Liberation Sans, sans-serif" font-size="10.5" fill="#b2b5be" font-weight="normal" text-anchor="middle" >Jul</text>
<text x="165.3" y="700" font-family="Liberation Sans, sans-serif" font-size="10.5" fill="#b2b5be" font-weight="normal" text-anchor="middle" >Aug</text>
<text x="282.3" y="700" font-family="Liberation Sans, sans-serif" font-size="10.5" fill="#b2b5be" font-weight="normal" text-anchor="middle" >Sep</text>
<text x="388.3" y="700" font-family="Liberation Sans, sans-serif" font-size="10.5" fill="#b2b5be" font-weight="normal" text-anchor="middle" >Oct</text>
<text x="499.3" y="700" font-family="Liberation Sans, sans-serif" font-size="10.5" fill="#b2b5be" font-weight="normal" text-anchor="middle" >Nov</text>
<text x="610.3" y="700" font-family="Liberation Sans, sans-serif" font-size="10.5" fill="#b2b5be" font-weight="normal" text-anchor="middle" >Dec</text>
<text x="717.3" y="700" font-family="Liberation Sans, sans-serif" font-size="10.5" fill="#b2b5be" font-weight="normal" text-anchor="middle" >2024</text>
<text x="833.3" y="700" font-family="Liberation Sans, sans-serif" font-size="10.5" fill="#b2b5be" font-weight="normal" text-anchor="middle" >Feb</text>
<text x="939.3" y="700" font-family="Liberation Sans, sans-serif" font-size="10.5" fill="#b2b5be" font-weight="normal" text-anchor="middle" >Mar</text>
<text x="1045.3" y="700" font-family="Liberation Sans, sans-serif" font-size="10.5" fill="#b2b5be" font-weight="normal" text-anchor="middle" >Apr</text>
<text x="1157.3" y="700" font-family="Liberation Sans, sans-serif" font-size="10.5" fill="#b2b5be" font-weight="normal" text-anchor="middle" >May</text>
<text x="1273.3" y="700" font-family="Liberation Sans, sans-serif" font-size="10.5" fill="#b2b5be" font-weight="normal" text-anchor="middle" >Jun</text>
<text x="1255" y="66.5" font-family="Liberation Sans, sans-serif" font-size="10.8" fill="#e6e6e6" font-weight="bold" text-anchor="start" textLength="85" lengthAdjust="spacingAndGlyphs" >100.00% (1.12806)</text>
<text x="1255" y="269" font-family="Liberation Sans, sans-serif" font-size="10.8" fill="#e6e6e6" font-weight="bold" text-anchor="start" textLength="79" lengthAdjust="spacingAndGlyphs" >50.00% (1.08650)</text>
<text x="1255" y="471.5" font-family="Liberation Sans, sans-serif" font-size="10.8" fill="#e6e6e6" font-weight="bold" text-anchor="start" textLength="74" lengthAdjust="spacingAndGlyphs" >0.00% (1.04494)</text>
<text x="87" y="62.3" font-family="Liberation Sans, sans-serif" font-size="14" fill="#ffffff" font-weight="bold" text-anchor="start" textLength="70.6" lengthAdjust="spacingAndGlyphs" >2023 highs</text>
<text x="370" y="498" font-family="Liberation Sans, sans-serif" font-size="14" fill="#ffffff" font-weight="bold" text-anchor="start" textLength="67" lengthAdjust="spacingAndGlyphs" >2023 lows</text>
<text x="9" y="17" font-family="Liberation Sans, sans-serif" font-size="11" fill="#d1d4dc" font-weight="normal" text-anchor="start" textLength="331" lengthAdjust="spacingAndGlyphs" stroke="#d1d4dc" stroke-width="0.3">dacolmanfx published on TradingView.com, May 06, 2024 12:03 UTC-4</text>
<text x="16.2" y="40.8" font-family="Liberation Sans, sans-serif" font-size="10.5" fill="#b2b5be" font-weight="normal" text-anchor="start" textLength="124" lengthAdjust="spacingAndGlyphs" >Euro / U.S. Dollar, 1D, ICE</text>
<text x="146" y="40.8" font-family="Liberation Sans, sans-serif" font-size="10.5" fill="#b2b5be" font-weight="normal" text-anchor="start" >O</text>
<text x="154" y="40.8" font-family="Liberation Sans, sans-serif" font-size="10.5" fill="#22ab94" font-weight="normal" text-anchor="start" textLength="35.7" lengthAdjust="spacingAndGlyphs" >1.07599</text>
<text x="196.6" y="40.8" font-family="Liberation Sans, sans-serif" font-size="10.5" fill="#b2b5be" font-weight="normal" text-anchor="start" >H</text>
<text x="204.5" y="40.8" font-family="Liberation Sans, sans-serif" font-size="10.5" fill="#22ab94" font-weight="normal" text-anchor="start" textLength="35.5" lengthAdjust="spacingAndGlyphs" >1.07908</text>
<text x="247" y="40.8" font-family="Liberation Sans, sans-serif" font-size="10.5" fill="#b2b5be" font-weight="normal" text-anchor="start" >L</text>
<text x="253.5" y="40.8" font-family="Liberation Sans, sans-serif" font-size="10.5" fill="#22ab94" font-weight="normal" text-anchor="start" textLength="35.7" lengthAdjust="spacingAndGlyphs" >1.07554</text>
<text x="295.6" y="40.8" font-family="Liberation Sans, sans-serif" font-size="10.5" fill="#b2b5be" font-weight="normal" text-anchor="start" >C</text>
<text x="303" y="40.8" font-family="Liberation Sans, sans-serif" font-size="10.5" fill="#22ab94" font-weight="normal" text-anchor="start" textLength="35.7" lengthAdjust="spacingAndGlyphs" >1.07779</text>
<text x="345.9" y="40.8" font-family="Liberation Sans, sans-serif" font-size="10.5" fill="#22ab94" font-weight="normal" text-anchor="start" textLength="85.4" lengthAdjust="spacingAndGlyphs" >+0.00170 (+0.16%)</text>
<path d="M9 718.4h7.1v8.4h-4v-5.7h-3.1z" fill="#d1d4dc"/><circle cx="18.4" cy="720.2" r="1.4" fill="#d1d4dc"/><path d="M21.2 718.4h4.6l-4.4 8.4h-3.4z" fill="#d1d4dc"/>
<text x="30.2" y="728.1" font-family="Liberation Sans, sans-serif" font-size="11.5" fill="#d1d4dc" font-weight="normal" text-anchor="start" textLength="61" lengthAdjust="spacingAndGlyphs" stroke="#d1d4dc" stroke-width="0.25">TradingView</text>
</svg></body></html>
